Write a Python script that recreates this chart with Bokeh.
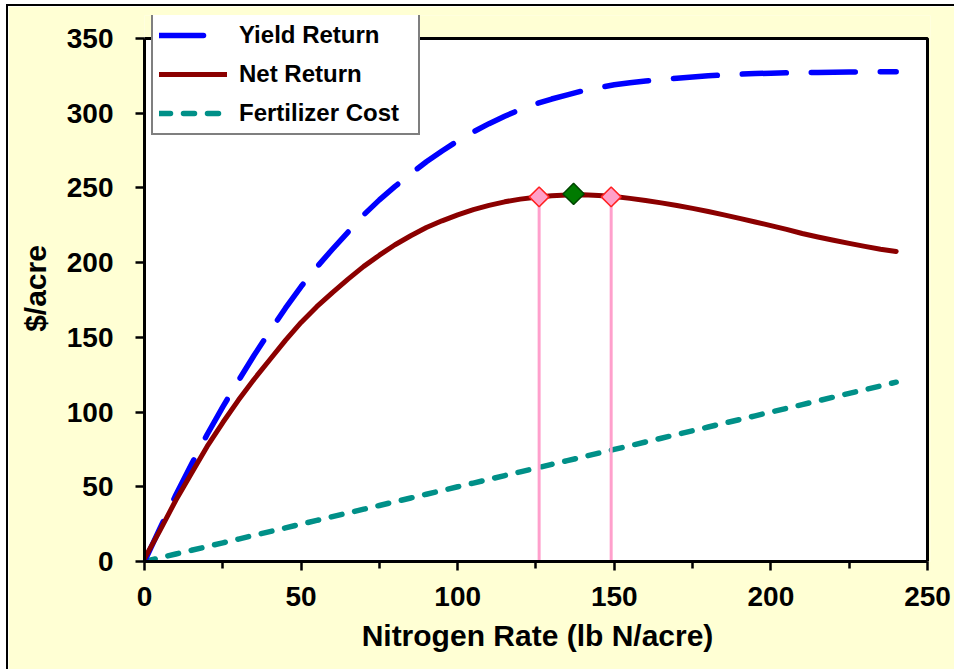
import numpy as np
from bokeh.plotting import figure
from bokeh.models import Range1d, FixedTicker, Legend, LegendItem
from bokeh.embed import file_html
from bokeh.resources import INLINE

# ---- data ----
n_rate = [0, 5, 10, 15, 20, 25, 30, 35, 40, 45, 50, 55, 60, 65, 70, 75, 80, 85,
          90, 95, 100, 105, 110, 115, 120, 125, 130, 135, 140, 145, 150, 155,
          160, 165, 170, 175, 180, 185, 190, 195, 200, 205, 210, 215, 220, 225,
          230, 235, 240]
yield_return = [0, 22.5, 44.5, 65, 85, 103.5, 121, 138, 154, 169.5, 184, 197,
                209, 220.5, 232, 242, 251, 259.5, 267.5, 274.7, 281.5, 287.5,
                293, 298, 302.5, 306.3, 309.5, 312.3, 315, 317.2, 319, 320.4,
                321.5, 322.5, 323.4, 324.2, 325, 325.6, 326.1, 326.5, 326.8,
                327, 327.2, 327.3, 327.4, 327.5, 327.6, 327.7, 327.8]
net_return = [2, 21, 41, 59, 77, 93, 108, 122, 135, 148, 160, 170.5, 180, 189,
              197.5, 205, 212, 218, 223.5, 228, 232, 235.5, 238.3, 240.7, 242.5,
              243.8, 244.8, 245.3, 245.4, 245, 244.2, 243, 241.6, 240, 238.2,
              236.3, 234.2, 232, 229.6, 227.2, 224.8, 222.3, 219.5, 217.2, 215,
              212.9, 210.9, 209, 207.5]
fert_cost = [0, 2.5, 5, 7.5, 10, 12.5, 15, 17.5, 20, 22.5, 25, 27.5, 30, 32.5,
             35, 37.5, 40, 42.5, 45, 47.5, 50, 52.5, 55, 57.5, 60, 62.5, 65,
             67.5, 70, 72.5, 75, 77.5, 80, 82.5, 85, 87.5, 90, 92.5, 95, 97.5,
             100, 102.5, 105, 107.5, 110, 112.5, 115, 117.5, 120]

mrtn_n = [137]
mrtn_v = [246]
range_n = [126, 149]
range_v = [244, 244]
range_base = [0, 0]

x_ticks = [0, 50, 100, 150, 200, 250]
x_minor = [25, 75, 125, 175, 225]
y_ticks = [0, 50, 100, 150, 200, 250, 300, 350]
x_max = 250
y_max = 350

BG = "#FFFFD4"
FONT = "Liberation Sans"

# frame extends a little beyond the plot box so the legend can overlap its top edge
p = figure(width=948, height=665, output_backend="svg", toolbar_location=None,
           x_range=Range1d(0, x_max + 3 / 3.128),
           y_range=Range1d(0, y_max + 23 / 1.4943),
           min_border_left=136, min_border_right=26, min_border_top=9,
           min_border_bottom=110)
p.background_fill_color = BG
p.border_fill_color = BG
p.outline_line_color = None
p.xgrid.visible = False
p.ygrid.visible = False
p.styles = {"margin-left": "6px", "margin-top": "4px",
            "border-top": "2px solid black", "border-left": "2px solid black"}

# white plot box with black border
p.quad(left=[0], right=[x_max], bottom=[0], top=[y_max],
       fill_color="white", line_color="black", line_width=3)

r_fert = p.line(n_rate, fert_cost, line_color="#009088", line_width=5.5,
                line_dash="11 13", line_cap="round")
r_yield = p.line(n_rate, yield_return, line_color="#0000FF", line_width=5.5,
                 line_dash="44 25", line_cap="round", line_join="round")
r_net = p.line(n_rate, net_return, line_color="#8B0000", line_width=5,
               line_cap="round", line_join="round")

p.segment(x0=range_n, y0=range_base, x1=range_n, y1=range_v,
          line_color="#FFA0CC", line_width=3)
p.scatter(range_n, range_v, marker="square", angle=np.pi / 4, size=14,
          fill_color="#FFA0C8", line_color="#FF2020", line_width=1.5)
p.scatter(mrtn_n, mrtn_v, marker="square", angle=np.pi / 4, size=15,
          fill_color="#007A00", line_color="#004400", line_width=1.5)

# axes
p.xaxis.ticker = FixedTicker(ticks=x_ticks, minor_ticks=x_minor)
p.yaxis.ticker = FixedTicker(ticks=y_ticks)
p.xaxis.bounds = (0, x_max)
p.yaxis.bounds = (0, y_max)
for ax in (p.xaxis[0], p.yaxis[0]):
    ax.axis_line_width = 3
    ax.axis_line_color = "black"
    ax.major_tick_line_width = 2.5
    ax.major_tick_line_color = "black"
    ax.major_tick_out = 9
    ax.major_tick_in = 0
    ax.major_label_text_font = FONT
    ax.major_label_text_font_style = "bold"
    ax.major_label_text_font_size = "28px"
    ax.major_label_text_color = "black"
    ax.axis_label_text_font = FONT
    ax.axis_label_text_font_style = "bold"
    ax.axis_label_text_font_size = "30px"
    ax.axis_label_text_color = "black"
p.xaxis.minor_tick_line_width = 2.5
p.xaxis.minor_tick_line_color = "black"
p.xaxis.minor_tick_out = 7
p.xaxis.minor_tick_in = 0
p.yaxis.minor_tick_line_color = None
p.xaxis.major_label_standoff = 16
p.yaxis.major_label_standoff = 22
p.xaxis.axis_label = "Nitrogen Rate (lb N/acre)"
p.yaxis.axis_label = "$/acre"
p.xaxis.axis_label_standoff = 10
p.yaxis.axis_label_standoff = 12

legend = Legend(items=[
    LegendItem(label="Yield Return", renderers=[r_yield]),
    LegendItem(label="Net Return", renderers=[r_net]),
    LegendItem(label="Fertilizer Cost", renderers=[r_fert]),
], location=(7, 426))
legend.label_text_font = FONT
legend.label_text_font_style = "bold"
legend.label_text_font_size = "24px"
legend.label_text_color = "black"
legend.border_line_color = "black"
legend.border_line_width = 2
legend.background_fill_color = "white"
legend.background_fill_alpha = 1
legend.padding = 6
legend.spacing = 11
legend.margin = 0
legend.glyph_height = 28
legend.label_height = 28
legend.glyph_width = 68
legend.label_width = 173
legend.label_standoff = 12
p.add_layout(legend, "center")

open("out.html", "w").write(file_html(p, INLINE))
